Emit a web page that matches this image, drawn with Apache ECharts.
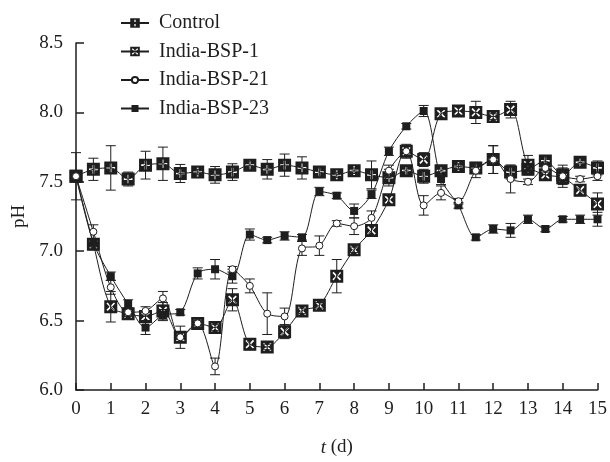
<!DOCTYPE html>
<html>
<head>
<meta charset="utf-8">
<script src="https://cdn.jsdelivr.net/npm/echarts@6/dist/echarts.min.js"></script>
<style>
  html, body { margin: 0; padding: 0; background: #fff; }
  #chart { width: 610px; height: 462px; }
</style>
</head>
<body>
<div id="chart"></div>
<script>
// sampling days (every half day)
const days = [0, 0.5, 1, 1.5, 2, 2.5, 3, 3.5, 4, 4.5, 5, 5.5, 6, 6.5, 7, 7.5,
  8, 8.5, 9, 9.5, 10, 10.5, 11, 11.5, 12, 12.5, 13, 13.5, 14, 14.5, 15]

const seriesNames = ['Control', 'India-BSP-1', 'India-BSP-21', 'India-BSP-23']

const controlPH = [7.54, 7.59, 7.60, 7.52, 7.62, 7.63, 7.56, 7.57, 7.55, 7.57, 7.62, 7.59, 7.62, 7.60, 7.57, 7.55,
  7.58, 7.55, 7.53, 7.58, 7.54, 7.58, 7.61, 7.60, 7.66, 7.57, 7.59, 7.65, 7.55, 7.64, 7.60]
const controlErr = [0.17, 0.08, 0.16, 0.05, 0.10, 0.12, 0.065, 0.02, 0.06, 0.06, 0.03, 0.07, 0.08, 0.08, 0.03, 0.02,
  0.02, 0.10, 0.06, 0.03, 0.05, 0.03, 0.02, 0.04, 0.10, 0.05, 0.03, 0.03, 0.05, 0.03, 0.05]

const bsp1PH = [7.54, 7.05, 6.60, 6.55, 6.53, 6.57, 6.38, 6.48, 6.45, 6.65, 6.33, 6.31, 6.42, 6.57, 6.61, 6.82,
  7.01, 7.15, 7.37, 7.72, 7.66, 7.99, 8.01, 8.00, 7.97, 8.02, 7.62, 7.55, 7.53, 7.44, 7.34]
const bsp1Err = [0, 0.04, 0.11, 0.02, 0.04, 0.06, 0.08, 0.03, 0.02, 0.08, 0.04, 0.02, 0.05, 0.02, 0.02, 0.12,
  0.02, 0.04, 0.03, 0.05, 0.05, 0.03, 0.03, 0.08, 0.02, 0.06, 0.07, 0.03, 0.05, 0.04, 0.08]

const bsp21PH = [7.54, 7.14, 6.74, 6.56, 6.57, 6.66, 6.38, 6.48, 6.17, 6.87, 6.75, 6.55, 6.53, 7.02, 7.04, 7.20,
  7.18, 7.24, 7.58, 7.72, 7.33, 7.42, 7.36, 7.58, 7.66, 7.52, 7.50, 7.60, 7.54, 7.52, 7.54]
const bsp21Err = [0, 0.05, 0.05, 0.02, 0.03, 0.05, 0.03, 0.02, 0.06, 0.02, 0.05, 0.15, 0.06, 0.05, 0.07, 0.02,
  0.06, 0.05, 0.04, 0.04, 0.07, 0.05, 0.02, 0.05, 0.10, 0.10, 0.02, 0.03, 0.08, 0.02, 0.03]

const bsp23PH = [7.54, 7.06, 6.82, 6.62, 6.45, 6.54, 6.56, 6.84, 6.87, 6.82, 7.12, 7.08, 7.11, 7.10, 7.43, 7.40,
  7.29, 7.41, 7.72, 7.90, 8.01, 7.52, 7.33, 7.10, 7.16, 7.15, 7.23, 7.16, 7.23, 7.23, 7.23]
const bsp23Err = [0, 0.03, 0.03, 0.03, 0.05, 0.04, 0.02, 0.04, 0.07, 0.05, 0.04, 0.02, 0.03, 0.02, 0.03, 0.02,
  0.05, 0.03, 0.03, 0.02, 0.04, 0.04, 0.02, 0.02, 0.03, 0.05, 0.03, 0.02, 0.02, 0.03, 0.05]

const xTicks = [0, 15, 1]        // min, max, step
const yTicks = [6.0, 8.5, 0.5]

const ink = '#1e1e1e'
const serif = '"Liberation Serif", "Times New Roman", serif'

// black square with a white "+" / "x" cut out (inner path wound the other way)
const plusBox = 'path://M0 0H12V12H0Z M5.2 2V5.2H2V6.8H5.2V10H6.8V6.8H10V5.2H6.8V2Z'
const crossBox = 'path://M0 0H12V12H0Z M2 3.1L4.9 6L2 8.9L3.1 10L6 7.1L8.9 10L10 8.9L7.1 6L10 3.1L8.9 2L6 4.9L3.1 2Z'
// smaller marks padded inside a 12x12 box so the legend keeps them small
const dotPad = 'path://M0 0M12 12M9.9 6A3.9 3.9 0 1 1 2.1 6A3.9 3.9 0 1 1 9.9 6Z'
const rectPad = 'path://M0 0M12 12M1.6 1.6H10.4V10.4H1.6Z'

const chart = echarts.init(document.getElementById('chart'))

function lineSeries(name, vals, symbol, size, fill, z) {
  return {
    name: name,
    type: 'line',
    smooth: 0.3,
    z: z,
    data: days.map((d, i) => [d, vals[i]]),
    symbol: symbol,
    symbolSize: size,
    showAllSymbol: true,
    lineStyle: { color: ink, width: 1 },
    itemStyle: { color: fill, borderColor: ink, borderWidth: fill === '#fff' ? 1 : 0 },
    emphasis: { disabled: true }
  }
}

function errSeries(name, vals, errs, z) {
  return {
    name: name + ' sd',
    type: 'custom',
    silent: true,
    z: z,
    data: days.map((d, i) => [d, vals[i] - errs[i], vals[i] + errs[i]]),
    encode: { x: 0, y: [1, 2] },
    renderItem: (params, api) => {
      const lo = api.coord([api.value(0), api.value(1)])
      const hi = api.coord([api.value(0), api.value(2)])
      if (Math.abs(lo[1] - hi[1]) < 1) return null
      const w = 5
      const st = { stroke: ink, lineWidth: 1 }
      return {
        type: 'group',
        children: [
          { type: 'line', shape: { x1: lo[0], y1: lo[1], x2: hi[0], y2: hi[1] }, style: st },
          { type: 'line', shape: { x1: lo[0] - w, y1: lo[1], x2: lo[0] + w, y2: lo[1] }, style: st },
          { type: 'line', shape: { x1: hi[0] - w, y1: hi[1], x2: hi[0] + w, y2: hi[1] }, style: st }
        ]
      }
    }
  }
}

const option = {
  backgroundColor: '#fff',
  animation: false,
  grid: { left: 76, right: 11, top: 43, bottom: 72 },
  legend: {
    data: seriesNames,
    orient: 'vertical',
    left: 120,
    top: 13,
    itemWidth: 28,
    itemHeight: 12,
    itemGap: 8.5,
    padding: 0,
    selectedMode: false,
    textStyle: { fontFamily: serif, fontSize: 20, lineHeight: 20, color: ink, padding: [0, 0, 0, 5] }
  },
  xAxis: {
    type: 'value',
    min: xTicks[0],
    max: xTicks[1],
    interval: xTicks[2],
    name: '{i|t} (d)',
    nameLocation: 'middle',
    nameGap: 48,
    nameTextStyle: {
      fontFamily: serif, fontSize: 19, color: ink,
      rich: { i: { fontFamily: serif, fontSize: 19, fontStyle: 'italic', color: ink } }
    },
    axisLine: { show: true, lineStyle: { color: ink, width: 1.5 } },
    axisTick: { show: true, inside: true, length: 7, lineStyle: { color: ink, width: 1.5 } },
    axisLabel: { margin: 10, fontFamily: serif, fontSize: 19, color: ink },
    splitLine: { show: false }
  },
  yAxis: {
    type: 'value',
    min: yTicks[0],
    max: yTicks[1],
    interval: yTicks[2],
    name: 'pH',
    nameLocation: 'middle',
    nameGap: 46,
    nameTextStyle: { fontFamily: serif, fontSize: 19, color: ink },
    axisLine: { show: true, lineStyle: { color: ink, width: 1.5 } },
    axisTick: { show: true, inside: true, length: 8, lineStyle: { color: ink, width: 1.5 } },
    axisLabel: { margin: 13, fontFamily: serif, fontSize: 19, color: ink, formatter: v => v.toFixed(1) },
    splitLine: { show: false }
  },
  series: [
    errSeries('Control', controlPH, controlErr, 1),
    errSeries('India-BSP-1', bsp1PH, bsp1Err, 1),
    errSeries('India-BSP-21', bsp21PH, bsp21Err, 1),
    errSeries('India-BSP-23', bsp23PH, bsp23Err, 1),
    lineSeries('Control', controlPH, plusBox, 13, ink, 2),
    lineSeries('India-BSP-1', bsp1PH, crossBox, 13, ink, 3),
    lineSeries('India-BSP-21', bsp21PH, dotPad, 10.8, '#fff', 5),
    lineSeries('India-BSP-23', bsp23PH, rectPad, 10.9, ink, 4)
  ]
}

chart.setOption(option)
</script>
</body>
</html>
